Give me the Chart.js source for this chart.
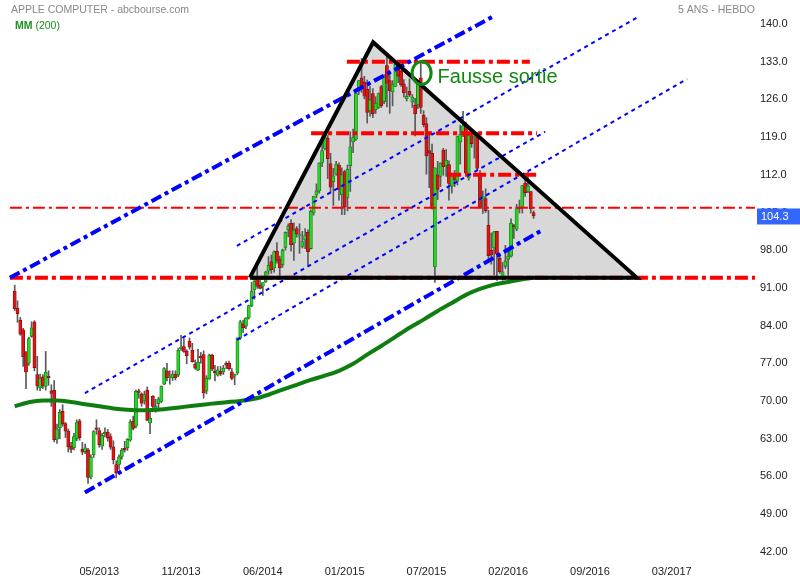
<!DOCTYPE html>
<html>
<head>
<meta charset="utf-8">
<script src="https://cdn.jsdelivr.net/npm/chart.js@4.4.1/dist/chart.umd.min.js"></script>
<style>
  html, body { margin: 0; padding: 0; background: #fff; }
  #wrap { width: 800px; height: 580px; position: relative; }
</style>
</head>
<body>
<div id="wrap"><canvas id="chart"></canvas></div>
<script>
// weekly candles, index 0 = week of 15/10/2012
const opens = [
  90.4, 87.2, 85.0, 83.2, 79.0, 77.0, 82.0, 84.7, 74.9, 72.4,
  74.5, 72.7, 74.6, 71.9, 72.0, 62.9, 65.0, 68.1, 65.8, 64.4,
  61.6, 61.3, 63.0, 66.3, 61.0, 60.6, 60.9, 55.9, 60.0, 65.0,
  64.5, 61.6, 63.9, 64.2, 63.4, 61.5, 58.2, 58.2, 59.7, 61.2,
  61.3, 62.7, 66.2, 65.3, 71.8, 71.3, 70.0, 72.0, 65.9, 70.9,
  68.3, 69.5, 69.9, 73.1, 75.6, 74.4, 74.3, 75.0, 74.8, 79.7,
  80.1, 79.2, 81.1, 79.4, 76.8, 75.7, 78.1, 78.6, 71.8, 74.1,
  78.5, 75.6, 74.8, 75.5, 75.4, 76.9, 77.0, 75.4, 74.6, 75.2,
  81.7, 84.3, 83.9, 85.4, 87.7, 90.6, 92.7, 91.5, 91.3, 92.1,
  94.1, 95.9, 94.7, 97.8, 96.4, 95.3, 98.5, 101.8, 103.0, 99.3,
  102.0, 100.6, 98.7, 99.9, 101.3, 98.3, 104.9, 108.2, 109.0, 114.3,
  116.9, 118.8, 114.1, 110.7, 112.1, 113.8, 108.3, 112.6, 107.8, 113.7,
  118.1, 118.6, 127.5, 130.0, 129.2, 127.9, 123.9, 127.1, 124.1, 124.5,
  128.4, 125.6, 132.3, 129.5, 127.4, 128.4, 132.6, 131.2, 128.9, 126.1,
  127.5, 125.5, 124.9, 125.0, 130.0, 123.1, 121.5, 116.5, 116.0, 94.9,
  112.0, 111.7, 116.6, 113.7, 113.9, 109.9, 112.1, 110.8, 118.1, 119.9,
  121.1, 111.4, 119.3, 118.8, 119.0, 112.2, 107.3, 107.6, 102.6, 98.0,
  98.4, 101.5, 96.5, 93.1, 95.0, 96.3, 96.9, 102.4, 101.9, 105.9,
  106.0, 110.4, 108.9, 108.9, 105.0
];
const highs = [
  91.5, 88.6, 85.5, 83.5, 79.2, 81.8, 84.7, 84.9, 78.3, 75.0,
  74.9, 79.2, 75.6, 73.0, 73.8, 65.7, 68.4, 69.3, 66.0, 64.8,
  62.3, 64.0, 66.5, 66.6, 62.3, 62.0, 61.2, 60.0, 64.5, 66.5,
  65.0, 64.0, 65.0, 64.7, 63.9, 62.6, 58.9, 60.0, 61.2, 62.5,
  63.0, 66.5, 67.2, 72.0, 72.2, 71.5, 71.8, 72.6, 67.9, 71.0,
  70.3, 70.7, 72.8, 76.2, 77.0, 75.6, 75.6, 75.6, 79.8, 82.2,
  81.6, 79.5, 81.7, 80.7, 77.6, 79.6, 79.0, 79.3, 74.7, 78.7,
  78.7, 76.6, 76.4, 76.4, 76.6, 77.3, 77.4, 76.0, 75.0, 81.7,
  85.0, 85.0, 85.5, 87.8, 92.0, 92.8, 95.0, 92.8, 92.0, 94.1,
  96.8, 97.1, 97.9, 99.4, 96.9, 98.2, 101.4, 102.9, 103.7, 103.1,
  102.4, 102.9, 101.5, 102.0, 101.8, 105.5, 108.0, 110.3, 114.2, 118.0,
  119.8, 119.3, 116.0, 113.2, 114.5, 114.2, 113.3, 112.8, 113.8, 120.0,
  120.5, 127.5, 129.5, 133.6, 130.3, 129.6, 128.4, 128.0, 126.5, 127.2,
  128.6, 130.6, 134.5, 130.6, 129.5, 132.9, 132.9, 131.4, 129.7, 128.3,
  129.8, 126.9, 126.2, 129.6, 133.0, 123.9, 122.6, 120.0, 117.7, 113.3,
  114.5, 114.2, 116.9, 116.7, 114.6, 112.3, 112.8, 119.2, 121.2, 123.8,
  121.8, 119.9, 119.7, 119.4, 119.9, 112.8, 109.0, 109.4, 105.4, 101.2,
  101.5, 101.5, 97.3, 95.7, 98.9, 98.2, 103.8, 102.8, 106.5, 107.3,
  110.0, 112.2, 112.4, 108.9, 105.3
];
const lows = [
  86.8, 84.6, 82.2, 76.4, 72.3, 76.6, 81.8, 75.6, 72.0, 71.9,
  72.3, 72.0, 72.9, 69.0, 62.4, 62.1, 63.0, 65.3, 63.2, 60.5,
  60.4, 60.9, 62.6, 62.7, 60.0, 60.2, 54.7, 55.5, 59.5, 63.8,
  61.4, 61.0, 63.3, 62.5, 61.0, 58.3, 55.7, 57.3, 59.2, 60.5,
  60.8, 62.5, 64.6, 65.0, 70.5, 69.0, 69.4, 66.4, 63.9, 68.3,
  67.9, 68.4, 69.7, 73.0, 73.7, 73.1, 73.8, 73.9, 74.5, 79.4,
  79.0, 76.9, 79.6, 77.2, 75.9, 75.6, 77.0, 70.5, 71.3, 74.0,
  75.6, 73.7, 74.6, 74.7, 74.9, 76.0, 75.7, 73.9, 73.0, 74.9,
  81.4, 82.7, 83.4, 85.2, 87.5, 88.9, 90.9, 90.8, 89.6, 92.0,
  93.5, 93.7, 93.9, 95.6, 93.3, 94.8, 98.0, 100.5, 97.8, 96.1,
  100.4, 97.4, 98.4, 98.3, 95.2, 98.2, 104.5, 107.7, 108.6, 113.5,
  116.6, 111.3, 108.6, 106.3, 111.9, 107.3, 104.6, 104.6, 105.3, 108.9,
  116.1, 118.4, 126.9, 127.3, 126.1, 121.6, 122.9, 122.6, 123.4, 124.3,
  124.5, 125.2, 124.6, 123.4, 124.8, 128.4, 129.1, 128.4, 126.4, 125.7,
  126.5, 124.5, 119.2, 124.3, 123.4, 120.9, 112.1, 109.6, 105.6, 92.0,
  107.4, 109.8, 111.9, 111.7, 107.3, 108.6, 109.8, 110.1, 114.0, 119.1,
  112.3, 111.0, 117.1, 115.1, 112.9, 105.8, 104.8, 105.0, 96.4, 95.4,
  93.4, 92.4, 93.7, 92.4, 94.6, 93.3, 96.7, 100.2, 101.6, 104.9,
  104.9, 108.0, 108.7, 104.9, 103.9
];
const closes = [
  87.1, 86.2, 82.4, 78.2, 75.4, 81.6, 83.6, 76.2, 72.8, 74.2,
  72.8, 75.3, 74.3, 71.4, 62.8, 64.8, 67.9, 65.7, 64.4, 61.5,
  61.0, 63.4, 66.0, 63.2, 60.5, 61.3, 55.8, 59.6, 64.3, 64.7,
  61.9, 63.6, 64.2, 63.1, 61.4, 59.1, 56.6, 59.6, 60.9, 60.9,
  62.9, 66.1, 64.9, 71.8, 71.6, 69.6, 71.2, 66.4, 66.8, 69.0,
  69.0, 70.4, 72.7, 76.0, 74.3, 74.4, 75.0, 74.3, 79.4, 80.0,
  79.2, 78.4, 80.0, 77.3, 76.1, 77.2, 78.0, 71.5, 74.2, 78.5,
  75.9, 75.2, 75.8, 75.0, 76.1, 76.7, 76.0, 74.2, 75.0, 81.7,
  84.7, 83.6, 85.4, 87.7, 90.4, 92.2, 91.3, 90.9, 92.0, 94.0,
  95.2, 94.4, 97.7, 96.1, 94.7, 98.0, 101.3, 102.5, 99.0, 101.7,
  101.0, 100.8, 99.6, 100.7, 97.7, 105.2, 108.0, 109.0, 114.2, 116.5,
  118.9, 115.0, 109.7, 111.8, 114.0, 109.3, 112.0, 106.0, 113.0, 117.2,
  118.9, 127.1, 129.5, 128.5, 126.6, 123.6, 125.9, 123.3, 125.3, 127.1,
  124.8, 130.3, 129.0, 127.6, 128.8, 132.5, 130.3, 128.7, 127.2, 126.6,
  126.8, 126.4, 123.3, 129.6, 124.5, 121.3, 115.5, 116.0, 105.8, 113.3,
  109.3, 114.2, 113.5, 114.7, 110.4, 112.1, 111.0, 119.1, 119.5, 121.1,
  112.3, 119.3, 117.8, 119.0, 113.2, 106.0, 108.0, 105.3, 97.0, 97.1,
  101.4, 97.3, 94.0, 94.0, 96.0, 96.9, 103.0, 102.3, 105.9, 105.7,
  110.0, 108.7, 109.9, 105.7, 104.35
];

// MM (200)
const maIdx  = [0, 5, 10, 15, 20, 25, 30, 35, 40, 45, 50, 55, 60, 65, 70, 75, 80, 85, 90, 95,
                100, 105, 110, 115, 120, 125, 130, 135, 140, 145, 150, 155, 160, 165, 170, 175, 180, 184];
const maVals = [69.0, 69.75, 70.1, 70.1, 69.8, 69.4, 69.0, 68.6, 68.35, 68.25, 68.35, 68.6, 68.9, 69.2, 69.5, 69.75, 70.0, 70.4, 71.15, 72.1,
                73.0, 73.9, 74.7, 75.6, 76.9, 78.6, 80.2, 81.9, 83.6, 85.1, 86.7, 88.2, 89.7, 90.8, 91.6, 92.1, 92.6, 92.9];

// axes
const xTickIdx = [30, 59, 88, 117, 146, 175, 204, 233];
const xTickLabels = ['05/2013', '11/2013', '06/2014', '01/2015', '07/2015', '02/2016', '09/2016', '03/2017'];
const yTickVals = [42, 49, 56, 63, 70, 77, 84, 91, 98, 105, 112, 119, 126, 133, 140];

// red horizontal levels
const redLevels = [92.9, 105.9, 133.0, 119.7, 112.0];
const redFrom   = [-1.7, -1.7, 117.8, 105.1, 153.7];
const redTo     = [262.5, 262.5, 182.7, 185.2, 185.6];

// channel (thick dash-dot) and parallels (thin dotted)
const upperIdx = [-1.7, 169.3],  upperVal = [92.86, 141.3];
const lowerIdx = [24.9, 186.6],  lowerVal = [53.0, 101.6];
const par1Idx  = [24.9, 188.1],  par1Val  = [71.46, 120.0];
const par2Idx  = [78.8, 221.0],  par2Val  = [98.8, 141.3];
const par3Idx  = [78.8, 238.4],  par3Val  = [81.35, 129.8];

// triangle
const triIdx = [83.4, 127.1, 220.6];
const triVal = [92.9, 136.6, 92.9];

// callout
const calloutIdx = 144.3, calloutVal = 130.9;
const calloutText = 'Fausse sortie';

const FONT = '"Liberation Sans", Arial, sans-serif';
const UP = '#2ad42a', UP_EDGE = '#0d800d';
const DOWN = '#e01414', DOWN_EDGE = '#8a0e0e';

function pts(xs, ys) {
  return xs.map((x, i) => ({ x: x, y: ys[i] }));
}

function lineSet(data, color, width, dash, order) {
  return {
    type: 'line', data: data, borderColor: color, borderWidth: width,
    borderDash: dash, pointRadius: 0, fill: false, tension: 0, order: order
  };
}

const isUp = i => closes[i] >= opens[i];

const datasets = [];

// triangle fill
datasets.push({
  type: 'line', data: pts(triIdx, triVal), borderWidth: 0, pointRadius: 0,
  backgroundColor: '#d8d8d8', fill: { value: triVal[0] }, order: 20
});

// wicks
datasets.push({
  type: 'bar', data: opens.map((o, i) => ({ x: i, y: [lows[i], highs[i]] })),
  backgroundColor: '#5a5a5a', barThickness: 1, grouped: false, order: 12, minBarLength: 1
});
// bodies
datasets.push({
  type: 'bar', data: opens.map((o, i) => ({ x: i, y: [o, closes[i]] })),
  backgroundColor: ctx => isUp(ctx.dataIndex) ? UP : DOWN,
  borderColor: ctx => isUp(ctx.dataIndex) ? UP_EDGE : DOWN_EDGE,
  borderWidth: 0.8, borderSkipped: false,
  barThickness: 3.2, grouped: false, order: 11, minBarLength: 1.5
});

// MM 200
datasets.push({
  type: 'line', data: pts(maIdx, maVals), borderColor: '#0f7d0f', borderWidth: 4,
  pointRadius: 0, fill: false, cubicInterpolationMode: 'monotone', order: 6
});

// red levels
redLevels.forEach((v, k) => {
  const thick = k !== 1;
  datasets.push(lineSet(pts([redFrom[k], redTo[k]], [v, v]), '#ff0000',
    thick ? 4 : 2, thick ? [13, 4, 4, 4] : [12, 4, 3, 4], 5));
});

// channel
datasets.push(lineSet(pts(upperIdx, upperVal), '#0000ff', 4, [11, 4, 4, 4], 4));
datasets.push(lineSet(pts(lowerIdx, lowerVal), '#0000ff', 4, [11, 4, 4, 4], 4));
datasets.push(lineSet(pts(par1Idx, par1Val), '#0000ff', 2, [4, 4], 4));
datasets.push(lineSet(pts(par2Idx, par2Val), '#0000ff', 2, [4, 4], 4));
datasets.push(lineSet(pts(par3Idx, par3Val), '#0000ff', 2, [4, 4], 4));

// triangle outline
datasets.push(lineSet(pts(triIdx.concat([triIdx[0]]), triVal.concat([triVal[0]])), '#000', 4, [], 2));

const overlay = {
  id: 'overlay',
  afterDraw(chart) {
    const ctx = chart.ctx;
    const xs = chart.scales.x, ys = chart.scales.y;
    ctx.save();
    // titles
    ctx.textBaseline = 'alphabetic';
    ctx.font = '10.5px ' + FONT;
    ctx.fillStyle = '#888';
    ctx.textAlign = 'left';
    ctx.fillText('APPLE COMPUTER - abcbourse.com', 11, 13);
    ctx.textAlign = 'right';
    ctx.fillText('5 ANS - HEBDO', 755, 13);
    ctx.textAlign = 'left';
    ctx.fillStyle = '#1f8f1f';
    ctx.font = 'bold 10.5px ' + FONT;
    ctx.fillText('MM', 15, 29);
    const w = ctx.measureText('MM').width;
    ctx.font = '10.5px ' + FONT;
    ctx.fillText(' (200)', 15 + w, 29);

    // callout
    const cx = xs.getPixelForValue(calloutIdx), cy = ys.getPixelForValue(calloutVal);
    ctx.strokeStyle = '#118811';
    ctx.lineWidth = 3;
    ctx.beginPath();
    ctx.ellipse(cx, cy, 9.5, 11.5, 0, 0, Math.PI * 2);
    ctx.stroke();
    ctx.fillStyle = '#118811';
    ctx.font = '20px ' + FONT;
    ctx.fillText(calloutText, cx + 16, cy + 10);

    // last price box
    const last = closes[closes.length - 1];
    const py = ys.getPixelForValue(last);
    ctx.fillStyle = '#3366ff';
    ctx.fillRect(757, py - 7.5, 43, 16);
    ctx.fillStyle = '#fff';
    ctx.font = '11px ' + FONT;
    ctx.textBaseline = 'middle';
    ctx.fillText(last.toFixed(1), 761, py + 0.5);
    ctx.restore();
  }
};

new Chart(document.getElementById('chart'), {
  type: 'line',
  data: { datasets: datasets },
  options: {
    responsive: true,
    maintainAspectRatio: false,
    animation: false,
    layout: { padding: 0 },
    plugins: { legend: { display: false }, tooltip: { enabled: false } },
    scales: {
      x: {
        type: 'linear', min: -5.213, max: 262.52, offset: false,
        grid: { display: false, drawTicks: false }, border: { display: false },
        afterBuildTicks: s => { s.ticks = xTickIdx.map(v => ({ value: v })); },
        afterFit: s => { s.height = 20; s.paddingLeft = 0; s.paddingRight = 0; },
        ticks: {
          autoSkip: false, maxRotation: 0, padding: 5, color: '#222',
          font: { family: FONT, size: 11 },
          callback: v => xTickLabels[xTickIdx.indexOf(v)] || ''
        }
      },
      y: {
        type: 'linear', position: 'right', min: 40.46, max: 144.46,
        grid: { display: false, drawTicks: false }, border: { display: false },
        afterBuildTicks: s => { s.ticks = yTickVals.map(v => ({ value: v })); },
        afterFit: s => { s.width = 45; s.paddingTop = 0; s.paddingBottom = 0; },
        ticks: {
          padding: 5, color: '#222', font: { family: FONT, size: 11 },
          callback: v => v >= 100 ? v.toFixed(1) : v.toFixed(2)
        }
      }
    }
  },
  plugins: [overlay]
});
</script>
</body>
</html>
